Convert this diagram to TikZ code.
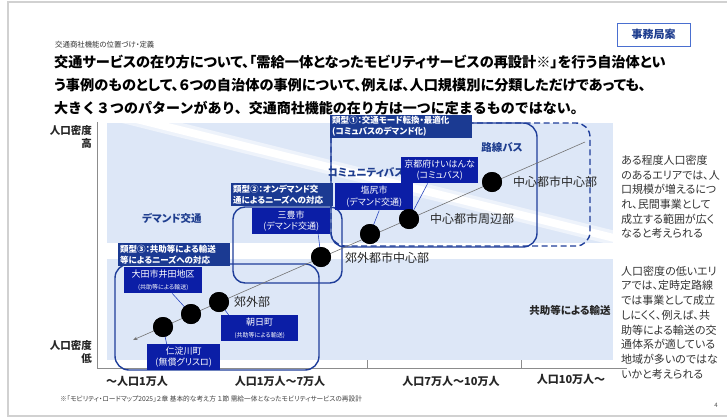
\documentclass[tikz,border=0pt]{standalone}
\usepackage{fontspec}
\setmainfont{Noto Sans CJK JP}[RawFeature=+palt]
\newfontfamily\fullwidthjp{Noto Sans CJK JP}
\usetikzlibrary{arrows.meta}
\definecolor{band}{HTML}{DDE7F7}
\definecolor{hdr}{HTML}{1B3A92}
\definecolor{lbl}{HTML}{0B1EA6}
\definecolor{frameblue}{HTML}{1F3E9A}
\definecolor{txtblue}{HTML}{1F3E8F}
\definecolor{linkblue}{HTML}{2A47C0}
\definecolor{bodytxt}{HTML}{333333}
\definecolor{stampblue}{HTML}{4A6FD0}
\begin{document}
\begin{tikzpicture}[x=1pt,y=-1pt,
  hdrbox/.style={fill=hdr,text=white,font=\bfseries\fontsize{8.5}{11}\selectfont,align=left,inner xsep=2pt,inner ysep=1pt,anchor=north west},
  lblbox/.style={fill=lbl,text=white,font=\fontsize{9}{11.5}\selectfont,align=center,inner sep=1pt,anchor=north west},
  grp/.style={draw=frameblue,line width=1.4pt,rounded corners=14pt},
  dot/.style={circle,fill=black,minimum size=20pt,inner sep=0pt},
  dotlbl/.style={font=\fontsize{12}{14}\selectfont,text=black!85,anchor=west,inner sep=0pt},
  conn/.style={draw=linkblue,line width=0.6pt},
  cat/.style={font=\bfseries\fontsize{10.5}{12}\selectfont,text=txtblue,inner sep=0pt},
  xlab/.style={font=\bfseries\fontsize{11}{13}\selectfont,text=black!85,inner sep=0pt},
  ylab/.style={font=\bfseries\fontsize{10.5}{12}\selectfont,text=black!85,inner sep=0pt,anchor=east},
  note/.style={font=\fontsize{11}{14.7}\selectfont,text=bodytxt,align=left,anchor=west,inner sep=0pt},
  ttl/.style={anchor=west,inner sep=0pt,font=\bfseries\fontsize{14.2}{16}\selectfont}
]
\useasboundingbox (0,0) rectangle (727,418);
\fill[white] (0,0) rectangle (727,418);
\draw[black!18,line width=1.5pt] (8,2) rectangle (730,416);

% background bands
\fill[band] (107,123) rectangle (613,243);
\begin{scope}
  \clip (107,123) rectangle (613,243);
  \fill[white,opacity=0.5] (122,123) -- (182,123) -- (664,243) -- (604,243) -- cycle;
  \fill[white] (136,123) -- (168,123) -- (650,243) -- (618,243) -- cycle;
\end{scope}
\fill[band] (107,259) rectangle (613,360);

% header texts
\node[anchor=west,inner sep=0pt,font=\fontsize{7.4}{9}\selectfont,text=black!80] (sub) at (55,45) {交通商社機能の位置づけ・定義};
\node[ttl] (t1) at (54,62) {交通サービスの在り方について、「需給一体となったモビリティサービスの再設計※」を行う自治体とい};
\node[ttl] (t2) at (54,85.5) {う事例のものとして、６つの自治体の事例について、例えば、人口規模別に分類しただけであっても、};
\node[ttl,font=\fullwidthjp\bfseries\fontsize{14}{16}\selectfont] (t3) at (54,108) {大きく３つのパターンがあり、交通商社機能の在り方は一つに定まるものではない。};
\node[draw=stampblue,line width=0.8pt,fill=white,minimum width=73pt,minimum height=23pt,inner sep=0pt,font=\bfseries\fontsize{11}{13}\selectfont,text=txtblue] (jim) at (653.5,34.5) {事務局案};

% axes
\coordinate (ytop) at (97,122);
\coordinate (orig) at (97,368);
\coordinate (xend) at (627,368);
\draw[black!45,line width=0.8pt] (ytop) -- (orig) -- (xend);
\coordinate (tk1) at (367,368);
\coordinate (tk2) at (521,368);
\draw[black!45,line width=0.8pt] (tk1) -- ++(0,-8);
\draw[black!45,line width=0.8pt] (tk2) -- ++(0,-8);

\node[ylab] (yh1) at (92,131) {人口密度};
\node[ylab] (yh2) at (92,144) {高};
\node[ylab] (yl1) at (92,346) {人口密度};
\node[ylab] (yl2) at (92,359) {低};

\node[xlab] (x1) at (137,381) {～人口1万人};
\node[xlab] (x2) at (280,381) {人口1万人～7万人};
\node[xlab] (x3) at (451,381) {人口7万人～10万人};
\node[xlab] (x4) at (571,379) {人口10万人～};

\node[anchor=west,inner sep=0pt,font=\fontsize{6.7}{8}\selectfont,text=black!75] (fn) at (60,399) {※「モビリティ・ロードマップ2025」２章 基本的な考え方 １節 需給一体となったモビリティサービスの再設計};
\node[inner sep=0pt,font=\fontsize{6}{7}\selectfont,text=black!70] (pg) at (716,405) {4};

% group frames
\draw[grp,dashed,dash pattern=on 6pt off 3.5pt] (331,123) rectangle (590,246);
\draw[grp] (331,123) rectangle (537,247);
\draw[grp,rounded corners=12pt] (233,207) rectangle (342,283);
\draw[grp] (115,264) rectangle (319,370);

% category labels
\node[cat] (c1) at (502,147) {路線バス};
\node[cat] (c2) at (366,172) {コミュニティバス};
\node[cat] (c3) at (172,218) {デマンド交通};
\node[cat,text=black!85] (c4) at (570,310) {共助等による輸送};

% main diagonal
\coordinate (ltop) at (585,142);
\coordinate (lend) at (133,340);
\draw[black!55,line width=0.6pt,-{Stealth[length=4.5pt,width=3.5pt]}] (ltop) -- (lend);

% boxes
\node[hdrbox,text width=138pt,minimum height=23pt] (h1) at (330,115) {類型①：交通モード転換・最適化\\(コミュバスのデマンド化)};
\node[hdrbox,text width=98pt,minimum height=23pt] (h2) at (231,183) {類型②：オンデマンド交\\通によるニーズへの対応};
\node[hdrbox,text width=108pt,minimum height=23pt] (h3) at (118,243) {類型③：共助等による輸送\\等によるニーズへの対応};

\node[lblbox,minimum width=77pt,minimum height=26pt] (kyoto) at (401,157) {京都府けいはんな\\(コミュバス)};
\node[lblbox,minimum width=78pt,minimum height=27pt] (shio) at (335,183) {塩尻市\\(デマンド交通)};
\node[lblbox,minimum width=78pt,minimum height=26pt] (mito) at (252,208) {三豊市\\(デマンド交通)};
\node[lblbox,minimum width=78pt,minimum height=26pt] (ota) at (124,267) {大田市井田地区\\{\fontsize{6}{8}\selectfont (共助等による輸送)}};
\node[lblbox,minimum width=77pt,minimum height=26pt] (asahi) at (221,315) {朝日町\\{\fontsize{6}{8}\selectfont (共助等による輸送)}};
\node[lblbox,minimum width=73pt,minimum height=26pt] (niyo) at (147,344) {仁淀川町\\(無償グリスロ)};

% dots
\node[dot] (d7) at (492,182) {};
\node[dot] (d6) at (409,219) {};
\node[dot] (d5) at (370,234) {};
\node[dot] (d4) at (321,257) {};
\node[dot] (d3) at (219,302) {};
\node[dot] (d2) at (191,314) {};
\node[dot] (d1) at (163,327) {};

% connectors
\draw[conn] ([xshift=-12pt]kyoto.south) -- (d6.center);
\draw[conn] ([xshift=5pt]shio.south) -- (d5.center);
\draw[conn] ([xshift=27pt]mito.south) -- (d4.center);
\draw[conn] ([xshift=9pt]ota.south) -- (d2.center);
\draw[conn] ([xshift=-31pt]asahi.north) -- (d3.center);
\draw[conn] ([xshift=-17pt]niyo.north) -- (d1.center);
% dots again above connectors
\foreach \d in {d1,d2,d3,d4,d5,d6,d7} \fill[black] (\d) circle (10pt);

\node[dotlbl] (l7) at (513,182) {中心都市中心部};
\node[dotlbl] (l6) at (430,219) {中心都市周辺部};
\node[dotlbl] (l4) at (345,258) {郊外都市中心部};
\node[dotlbl] (l3) at (234,302) {郊外部};

% side notes
\node[note] (n1) at (621,197) {ある程度人口密度\\のあるエリアでは、人\\口規模が増えるにつ\\れ、民間事業として\\成立する範囲が広く\\なると考えられる};
\node[note] (n2) at (621,322.5) {人口密度の低いエリ\\アでは、定時定路線\\では事業として成立\\しにくく、例えば、共\\助等による輸送の交\\通体系が適している\\地域が多いのではな\\いかと考えられる};
\end{tikzpicture}
\end{document}
